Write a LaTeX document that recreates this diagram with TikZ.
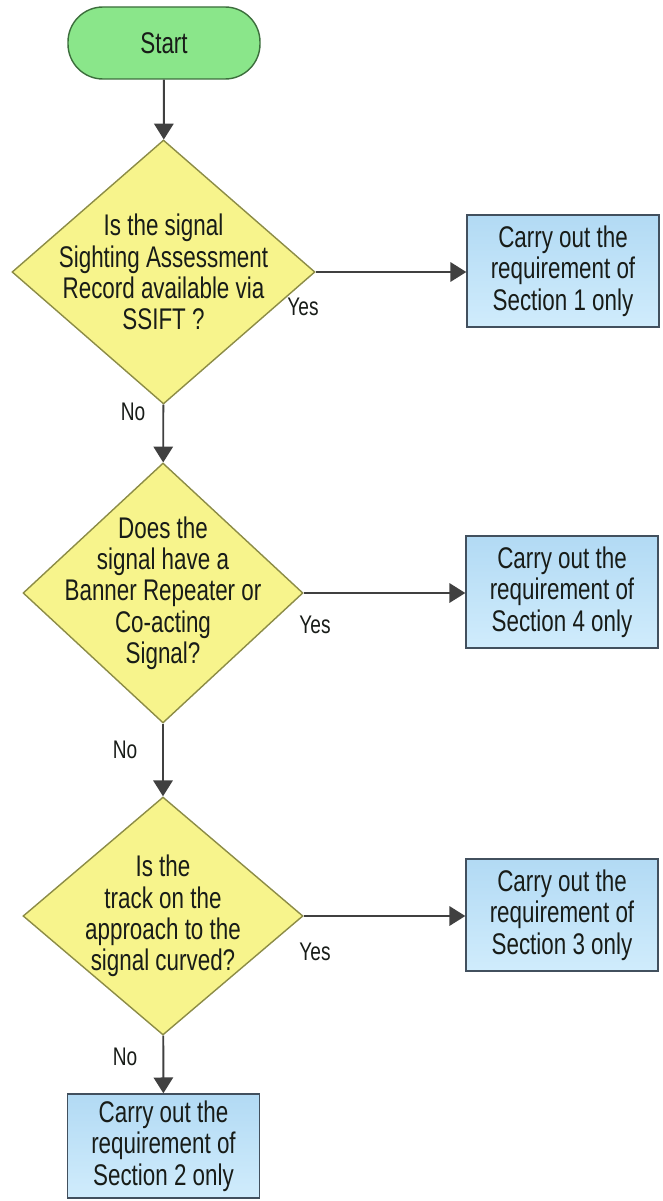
\documentclass[tikz,border=0pt]{standalone}
\usepackage{fontspec}
\setmainfont{Liberation Sans}[FakeStretch=0.75]
\usetikzlibrary{arrows.meta,positioning,shapes.geometric}
\definecolor{startfill}{RGB}{138,230,138}
\definecolor{startedge}{RGB}{60,110,60}
\definecolor{askfill}{RGB}{247,244,140}
\definecolor{askedge}{RGB}{140,140,70}
\definecolor{dotop}{RGB}{178,218,244}
\definecolor{dobottom}{RGB}{208,236,252}
\definecolor{doedge}{RGB}{66,80,94}
\definecolor{flowgray}{RGB}{64,64,64}
\definecolor{inkdark}{RGB}{24,28,24}

\begin{document}
\begin{tikzpicture}[
  terminal/.style={rectangle,rounded corners=0.7cm,draw=startedge,fill=startfill,line width=0.8pt,
    minimum width=3.84cm,minimum height=1.44cm,text=inkdark,font=\fontsize{17}{17.8}\selectfont},
  query/.style={diamond,draw=askedge,fill=askfill,line width=0.8pt,inner sep=0pt,
    label={[align=center,text=inkdark,font=\fontsize{17}{17.8}\selectfont]center:#1}},
  action/.style={rectangle,draw=doedge,top color=dotop,bottom color=dobottom,line width=0.8pt,
    minimum width=3.84cm,minimum height=2.24cm,align=center,text=inkdark,font=\fontsize{17}{17.8}\selectfont},
  answer/.style={text=inkdark,font=\fontsize{14.5}{16}\selectfont},
  flow/.style={-{Triangle[width=11pt,length=9pt]},line width=1.1pt,draw=flowgray,fill=flowgray}
]
\useasboundingbox (0,0) rectangle (13.24,-24.02);

\node[terminal] (start) at (3.28,-0.86) {Start};

% questions down the left
\node[query={Is the signal\\Sighting Assessment\\Record available via\\SSIFT ?},
  minimum width=6.06cm,minimum height=5.28cm] (q1) at (3.27,-5.44) {};
\node[query={Does the\\signal have a\\Banner Repeater or\\Co-acting\\Signal?},
  minimum width=5.6cm,minimum height=5.2cm] (q2) at (3.26,-11.86) {};
\node[query={Is the\\track on the\\approach to the\\signal curved?},
  minimum width=5.6cm,minimum height=4.76cm] (q3) at (3.26,-18.32) {};

% outcomes
\node[action] (sec1) at (11.26,-5.42) {Carry out the\\requirement of\\Section 1 only};
\node[action] (sec4) at (11.24,-11.84) {Carry out the\\requirement of\\Section 4 only};
\node[action] (sec3) at (11.24,-18.30) {Carry out the\\requirement of\\Section 3 only};
\node[action,minimum height=2.08cm] (sec2) at (3.27,-22.92) {Carry out the\\requirement of\\Section 2 only};

\draw[flow] (start) -- (q1);
\draw[flow] (q1) -- (q2);
\draw[flow] (q2) -- (q3);
\draw[flow] (q3) -- (sec2);
\draw[flow] (q1.east) -- (q1.east -| sec1.west);
\draw[flow] (q2.east) -- (q2.east -| sec4.west);
\draw[flow] (q3.east) -- (q3.east -| sec3.west);

\node[answer] (yes1) at (6.06,-6.14) {Yes};
\node[answer] (yes2) at (6.30,-12.50) {Yes};
\node[answer] (yes3) at (6.30,-19.04) {Yes};
\node[answer] (no1) at (2.66,-8.24) {No};
\node[answer] (no2) at (2.50,-15.00) {No};
\node[answer] (no3) at (2.50,-21.14) {No};
\end{tikzpicture}
\end{document}
